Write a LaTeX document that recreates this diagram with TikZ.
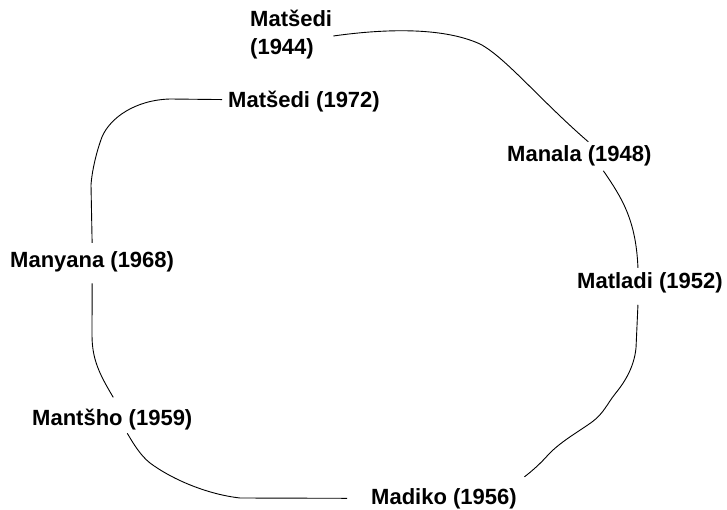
\documentclass[tikz,border=0pt]{standalone}
\usepackage{fontspec}
\setmainfont{Liberation Sans}
\begin{document}
\begin{tikzpicture}[x=1pt,y=-1pt,
  lbl/.style={font=\fontsize{22}{28}\selectfont\bfseries, inner sep=0pt, anchor=base west},
  link/.style={line width=0.9pt, black}]
\useasboundingbox (0,0) rectangle (727,510);

% labels, placed by left edge and baseline
\node[lbl] (m44) at (250,27) {\begin{tabular}[t]{@{}l@{}}Matšedi\\(1944)\end{tabular}};
\node[lbl] (m48) at (507,162) {Manala (1948)};
\node[lbl] (m52) at (577,288) {Matladi (1952)};
\node[lbl] (m56) at (371,504) {Madiko (1956)};
\node[lbl] (m59) at (32,425) {Mantšho (1959)};
\node[lbl] (m68) at (10,268) {Manyana (1968)};
\node[lbl] (m72) at (228,108) {Matšedi (1972)};

% hand-drawn links between successive names
\draw[link] ([shift={(1,0.6)}]m44.east) .. controls (390,28) and (445,28) .. (480,44)
  .. controls (505,57) and (540,100) .. ([shift={(9,-4)}]m48.north);
\draw[link] ([shift={(24,4)}]m48.south) .. controls (622,198) and (636,220) .. ([shift={(-12,-4)}]m52.north);
\draw[link] ([shift={(-12,12)}]m52.south) -- (636,348)
  .. controls (634,368) and (624,383) .. (615,394)
  .. controls (607,404) and (604,413) .. (592,422)
  .. controls (578,432) and (560,442) .. (548,455)
  .. controls (540,464) and (532,471) .. ([shift={(7.5,-11)}]m56.north east);
\draw[link] ([shift={(-24,0)}]m56.west) -- (240,498)
  .. controls (205,494) and (170,478) .. (150,463)
  .. controls (140,455) and (133,443) .. ([shift={(15,3.5)}]m59.south);
\draw[link] ([shift={(1,-11)}]m59.north) .. controls (100,375) and (92,360) .. (92,335)
  -- ([shift={(0,10.5)}]m68.south);
\draw[link] ([shift={(0,-9)}]m68.north) -- (91,185)
  .. controls (92,170) and (97,150) .. (102,137)
  .. controls (110,118) and (135,100) .. (170,99) -- ([shift={(-6,-2.5)}]m72.west);
\end{tikzpicture}
\end{document}
